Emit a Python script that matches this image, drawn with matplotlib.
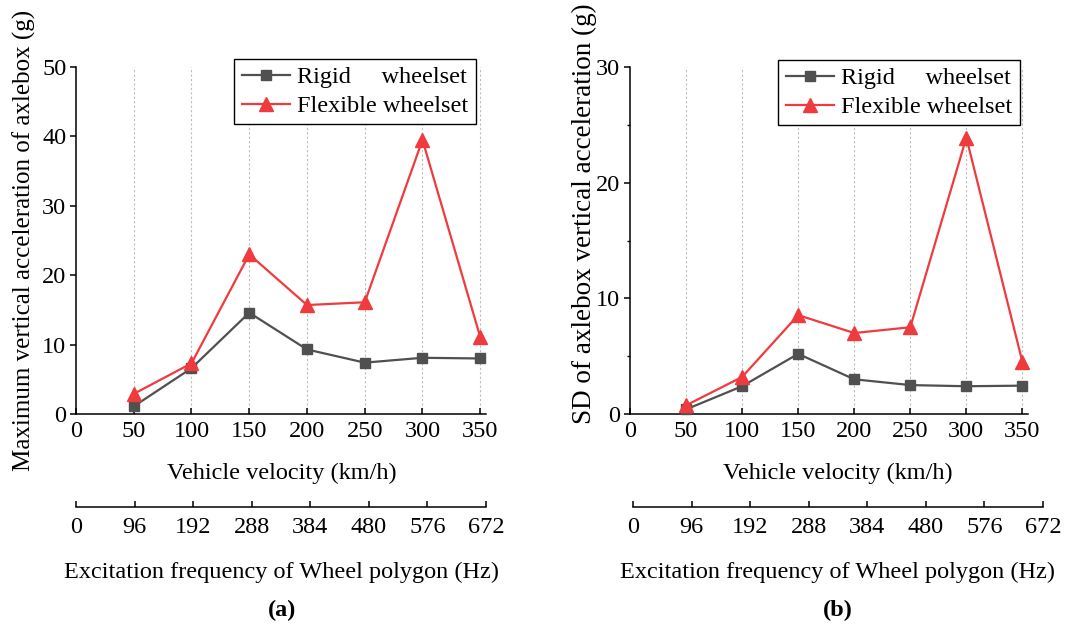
import matplotlib
matplotlib.use("Agg")
import matplotlib.pyplot as plt
from matplotlib.ticker import MultipleLocator

plt.rcParams['font.family'] = ['Liberation Serif', 'DejaVu Serif']

# Vehicle velocity (km/h) and the matching excitation frequency (Hz)
velocity = [50, 100, 150, 200, 250, 300, 350]
velocity_ticks = [0, 50, 100, 150, 200, 250, 300, 350]
frequency_ticks = [0, 96, 192, 288, 384, 480, 576, 672]

# (a) maximum vertical acceleration of axlebox (g)
max_rigid = [1.1, 6.6, 14.6, 9.3, 7.4, 8.1, 8.0]
max_flexible = [2.9, 7.3, 23.0, 15.7, 16.1, 39.5, 11.1]

# (b) standard deviation of axlebox vertical acceleration (g)
sd_rigid = [0.4, 2.4, 5.2, 3.0, 2.5, 2.4, 2.45]
sd_flexible = [0.75, 3.2, 8.55, 7.0, 7.5, 23.9, 4.5]

series_labels = ["Rigid     wheelset", "Flexible wheelset"]

W, H = 1078, 631
fig = plt.figure(figsize=(W / 100, H / 100), dpi=100)

GRAY = "#505050"
RED = "#ef3b3d"
FS = 17.5


def px_box(x0, y0, x1, y1):
    return [x0 / W, 1 - y1 / H, (x1 - x0) / W, (y1 - y0) / H]


def draw_panel(box, ymax, ystep, minor, rigid, flexible, legend_box, ylabel,
               ylabel_pos, ylabel_fs, sec_box, xlabel_x, tag):
    ax = fig.add_axes(px_box(*box))
    ax.set_xlim(0, 355)
    ax.set_ylim(0, ymax)
    for s in ("top", "right"):
        ax.spines[s].set_visible(False)
    for s in ("left", "bottom"):
        ax.spines[s].set_linewidth(1.1)
    ax.set_xticks(velocity_ticks)
    ax.set_yticks(range(0, ymax + 1, ystep))
    if minor:
        ax.yaxis.set_minor_locator(MultipleLocator(minor))
        ax.tick_params(axis="y", which="minor", direction="out", length=2.5, width=1.0)
    ax.tick_params(axis="x", which="major", direction="in", length=4.5, width=1.1,
                   pad=5, labelsize=FS)
    ax.tick_params(axis="y", which="major", direction="out", length=4.5, width=1.1,
                   pad=2.5, labelsize=FS)
    for v in velocity_ticks[1:]:
        ax.axvline(v, color="#bdbdbd", lw=0.8, ls=(0, (2, 2)), zorder=0)

    ax.plot(velocity, rigid, color=GRAY, lw=1.6, marker="s", ms=7,
            label=series_labels[0], clip_on=False, zorder=3)
    ax.plot(velocity, flexible, color=RED, lw=1.6, marker="^", ms=10,
            label=series_labels[1], clip_on=False, zorder=4)

    lx1, ly0 = legend_box
    leg = ax.legend(loc="upper right", bbox_to_anchor=(lx1 / W, 1 - ly0 / H),
                    bbox_transform=fig.transFigure, fontsize=FS, frameon=True,
                    fancybox=False, framealpha=1, edgecolor="black",
                    handlelength=2.0, handletextpad=0.3, borderpad=0.3,
                    labelspacing=0.28, borderaxespad=0)
    leg.get_frame().set_linewidth(1.0)

    fig.text(ylabel_pos[0] / W, 1 - ylabel_pos[1] / H, ylabel, rotation=90,
             ha="center", va="center", fontsize=ylabel_fs)

    # secondary frequency scale below the velocity axis
    sx0, sx1, sy = sec_box
    sec = fig.add_axes([sx0 / W, 1 - sy / H, (sx1 - sx0) / W, 0])
    sec.patch.set_visible(False)
    for s in ("top", "right", "left"):
        sec.spines[s].set_visible(False)
    sec.spines["bottom"].set_linewidth(1.1)
    sec.set_xlim(0, 672)
    sec.set_yticks([])
    sec.set_xticks(frequency_ticks)
    sec.tick_params(axis="x", direction="in", length=4.5, width=1.1, pad=7,
                    labelsize=FS)

    fig.text(xlabel_x / W, 1 - 473 / H, "Vehicle velocity (km/h)",
             ha="center", va="center", fontsize=FS)
    fig.text(xlabel_x / W, 1 - 572 / H, "Excitation frequency of Wheel polygon (Hz)",
             ha="center", va="center", fontsize=FS)
    fig.text(xlabel_x / W, 1 - 610 / H, "(" + tag + ")", ha="center", va="center",
             fontsize=FS, fontweight="bold")
    return ax


draw_panel((76, 67, 486, 414), 50, 10, None, max_rigid, max_flexible,
           (476, 59), "Maximum vertical acceleration of axlebox (g)", (24, 240), 18,
           (76, 486, 507), 282, "a")
draw_panel((630, 67, 1028, 414), 30, 10, 5, sd_rigid, sd_flexible,
           (1020, 60), "SD of axlebox vertical acceleration (g)", (584, 214), 19.5,
           (633, 1043, 507), 838, "b")

fig.savefig("out.png", dpi=100)
